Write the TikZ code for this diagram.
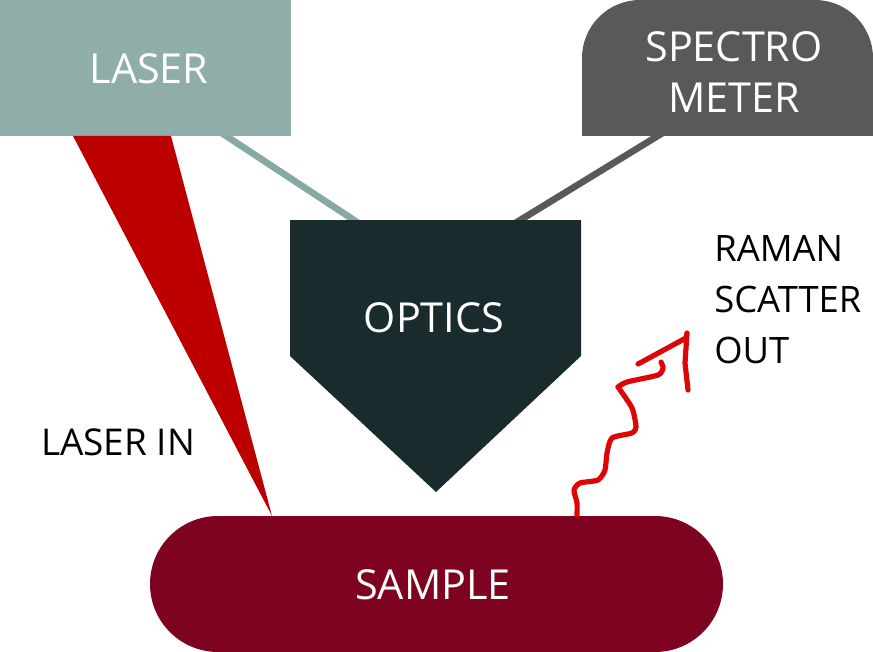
\documentclass[tikz,border=0pt]{standalone}
\usepackage{fontspec}
\setmainfont{Open Sans}
\usetikzlibrary{shapes.misc}
\definecolor{lasercol}{HTML}{8FAEA9}
\definecolor{laserline}{HTML}{86A9A3}
\definecolor{spectrocol}{HTML}{595959}
\definecolor{opticscol}{HTML}{1A2B2E}
\definecolor{samplecol}{HTML}{7D0320}
\definecolor{beamcol}{HTML}{BC0000}
\definecolor{ramancol}{HTML}{DD0505}
\tikzset{
  label text/.style={font=\fontsize{27.3}{38.25}\selectfont, inner sep=0pt, align=center},
  white text/.style={font=\fontsize{31}{38.25}\selectfont, inner sep=0pt, align=center, text=white},
  block/.style={minimum height=102pt, inner sep=0pt},
  ramanline/.style={draw=ramancol, line width=3.9pt, line cap=round, line join=round}
}
\begin{document}
\begin{tikzpicture}[x=0.75pt, y=-0.75pt]
    \useasboundingbox (0, 0) rectangle (873, 652);
    \coordinate (0) at (211, 126);
    \coordinate (1) at (369, 230);
    \coordinate (2) at (674, 126);
    \coordinate (3) at (504, 230);
    \draw [laserline, line width=5pt] (0) to (1);
    \draw [spectrocol, line width=5pt] (2) to (3);
    \node [block, fill=lasercol, minimum width=218.25pt] (laser) at (145.5, 68) {};
    \node [white text] (lasertext) at (149, 69) {LASER};
    \fill [spectrocol] (582, 136) -- (582, 58) arc (180:270:58) -- (815, 0) arc (270:360:58) -- (873, 136) -- cycle;
    \node [white text] (spectro) at (734, 72) {SPECTRO\\METER};
    \fill [opticscol] (290, 220) -- (581, 220) -- (581, 356) -- (436, 492) -- (290, 356) -- cycle;
    \node [white text] (optics) at (434, 318) {OPTICS};
    \node [block, rounded rectangle, fill=samplecol, minimum width=429.75pt] (sample) at (436.5, 584) {};
    \node [white text] (sampletext) at (433, 585) {SAMPLE};
    \fill [beamcol] (73, 136) -- (171, 136) -- (272, 516) -- cycle;
    \node [label text, font=\fontsize{27.7}{38.25}\selectfont] (laserin) at (118, 442) {LASER IN};
    \node [label text, align=left, anchor=west] (raman) at (714, 300) {RAMAN\\SCATTER\\OUT};
    % scatter line
    \draw [ramanline] plot [smooth, tension=0.4] coordinates {(577, 515) (577, 503) (574, 490) (580, 483) (598, 480) (605, 470) (607, 453) (612, 438) (632, 433) (636, 427) (632, 408) (618, 387)};
    \draw [ramanline] plot [smooth, tension=0.4] coordinates {(618, 387) (627, 382) (658, 375) (663, 368) (661, 362)};
    \draw [ramanline] (638, 364) -- (686, 338) -- (687, 333) -- (685, 363) -- (688, 390);
  \end{tikzpicture}
\end{document}
